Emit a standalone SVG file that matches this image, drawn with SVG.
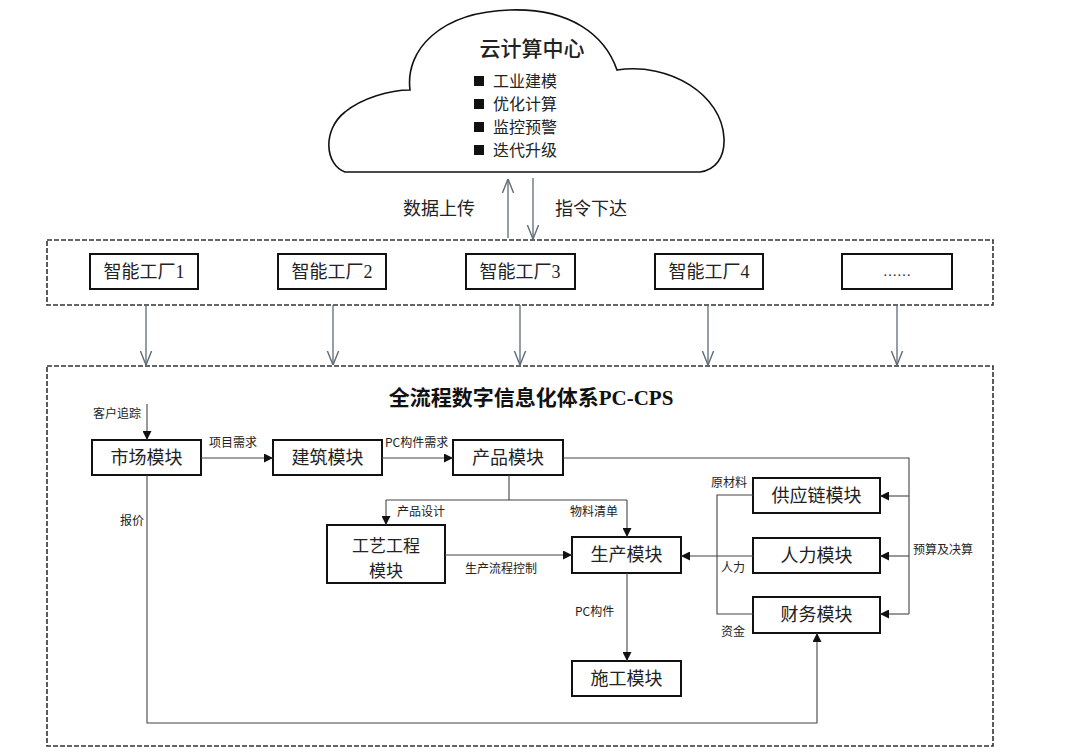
<svg xmlns="http://www.w3.org/2000/svg" width="1067" height="756" viewBox="0 0 1067 756">
<defs>
<style>
.box{fill:#fff;stroke:#111;stroke-width:2}
.dash{fill:none;stroke:#333;stroke-width:1.6;stroke-dasharray:5 2}
.ln{fill:none;stroke:#444;stroke-width:1.1}
.gl{fill:none;stroke:#5d6b78;stroke-width:1.3}
.m{font-family:"Noto Sans CJK SC","Liberation Sans",sans-serif;font-size:18px;fill:#222;text-anchor:middle}
.s{font-family:"Noto Sans CJK SC","Liberation Sans",sans-serif;font-size:12px;fill:#222}
.c{font-family:"Noto Sans CJK SC","Liberation Sans",sans-serif;font-size:18px;fill:#222}
.ci{font-family:"Noto Sans CJK SC","Liberation Sans",sans-serif;font-size:16px;fill:#222}
.t{font-family:"Liberation Serif","Noto Sans CJK SC",serif;font-size:21px;font-weight:bold;fill:#111;text-anchor:middle}
.num{font-family:"Liberation Serif",serif}
</style>
<marker id="fa" viewBox="0 0 10 10" refX="10" refY="5" markerWidth="9" markerHeight="9" markerUnits="userSpaceOnUse" orient="auto">
<path d="M0 0L10 5L0 10Z" fill="#111"/>
</marker>
<marker id="va" viewBox="0 0 10 10" refX="10" refY="5" markerWidth="14" markerHeight="14" markerUnits="userSpaceOnUse" orient="auto">
<path d="M0 1L10 5L0 9" fill="none" stroke="#5d6b78" stroke-width="1"/>
</marker>
</defs>
<rect width="1067" height="756" fill="#fff"/>

<g id="cloud">
<path d="M345 172C325 165 322 130 345 112C362 98 390 90 410 90C405 50 440 12 510 10C570 8 605 35 617 70C670 62 722 95 724 138C725 158 715 170 700 172Z" fill="#fff" stroke="#111" stroke-width="1.6"/>
<text x="532" y="56" class="c" style="font-size:21px;font-weight:500" text-anchor="middle">云计算中心</text>
<rect x="474" y="76" width="10" height="10" fill="#111"/>
<rect x="474" y="99" width="10" height="10" fill="#111"/>
<rect x="474" y="122" width="10" height="10" fill="#111"/>
<rect x="474" y="145" width="10" height="10" fill="#111"/>
<text x="493" y="87" class="ci">工业建模</text>
<text x="493" y="110" class="ci">优化计算</text>
<text x="493" y="133" class="ci">监控预警</text>
<text x="493" y="156" class="ci">迭代升级</text>
</g>

<g id="factories">
<rect x="47" y="240" width="946" height="65" class="dash"/>
<g id="f1"><rect x="90" y="254" width="108" height="35" class="box"/><text x="144" y="278" class="m">智能工厂<tspan class="num">1</tspan></text></g>
<g id="f2"><rect x="278" y="254" width="108" height="35" class="box"/><text x="332" y="278" class="m">智能工厂<tspan class="num">2</tspan></text></g>
<g id="f3"><rect x="466" y="254" width="109" height="35" class="box"/><text x="520" y="278" class="m">智能工厂<tspan class="num">3</tspan></text></g>
<g id="f4"><rect x="655" y="254" width="108" height="35" class="box"/><text x="709" y="278" class="m">智能工厂<tspan class="num">4</tspan></text></g>
<g id="f5"><rect x="842" y="254" width="110" height="35" class="box"/><text x="897" y="276" class="m" style="font-family:'Liberation Serif',serif;font-size:14px">……</text></g>
</g>

<g id="system">
<rect x="47" y="366" width="946" height="380" class="dash"/>
<text x="531" y="405" class="t">全流程数字信息化体系PC-CPS</text>
</g>

<g id="market"><rect x="92" y="440" width="109" height="35" class="box"/><text x="146.5" y="464" class="m">市场模块</text></g>
<g id="building"><rect x="273" y="440" width="109" height="35" class="box"/><text x="327.5" y="464" class="m">建筑模块</text></g>
<g id="product"><rect x="453" y="440" width="110" height="35" class="box"/><text x="508" y="464" class="m">产品模块</text></g>
<g id="process"><rect x="327" y="525" width="118" height="58" class="box"/><text x="386" y="552" class="m" style="font-size:17px">工艺工程</text><text x="386" y="577" class="m" style="font-size:17px">模块</text></g>
<g id="production"><rect x="572" y="537" width="109" height="36" class="box"/><text x="626.5" y="561" class="m">生产模块</text></g>
<g id="supply"><rect x="753" y="478" width="127" height="35" class="box"/><text x="816.5" y="502" class="m">供应链模块</text></g>
<g id="hr"><rect x="753" y="538" width="127" height="35" class="box"/><text x="816.5" y="562" class="m">人力模块</text></g>
<g id="finance"><rect x="753" y="597" width="127" height="36" class="box"/><text x="816.5" y="621" class="m">财务模块</text></g>
<g id="construction"><rect x="572" y="661" width="109" height="35" class="box"/><text x="626.5" y="685" class="m">施工模块</text></g>

<g id="connectors">
<path d="M508 238V179" class="gl" marker-end="url(#va)"/>
<path d="M533 178V239" class="gl" marker-end="url(#va)"/>
<path d="M146 305V365" class="gl" marker-end="url(#va)"/>
<path d="M333 305V365" class="gl" marker-end="url(#va)"/>
<path d="M520 305V365" class="gl" marker-end="url(#va)"/>
<path d="M708 305V365" class="gl" marker-end="url(#va)"/>
<path d="M897 305V365" class="gl" marker-end="url(#va)"/>

<path d="M147 404V440" class="ln" marker-end="url(#fa)"/>
<path d="M201 458H273" class="ln" marker-end="url(#fa)"/>
<path d="M382 458H453" class="ln" marker-end="url(#fa)"/>
<path d="M563 458H909V614" class="ln"/>
<path d="M909 496H880" class="ln" marker-end="url(#fa)"/>
<path d="M909 556H880" class="ln" marker-end="url(#fa)"/>
<path d="M909 614H880" class="ln" marker-end="url(#fa)"/>
<path d="M509 475V500M386 500H627" class="ln"/>
<path d="M386 500V525" class="ln" marker-end="url(#fa)"/>
<path d="M627 500V537" class="ln" marker-end="url(#fa)"/>
<path d="M445 555H572" class="ln" marker-end="url(#fa)"/>
<path d="M753 495H717V614H753" class="ln"/>
<path d="M753 556H681" class="ln" marker-end="url(#fa)"/>
<path d="M627 573V661" class="ln" marker-end="url(#fa)"/>
<path d="M147 475V723H817V633" class="ln" marker-end="url(#fa)"/>

<text x="475" y="215" class="c" text-anchor="end">数据上传</text>
<text x="555" y="215" class="c">指令下达</text>
<text x="93" y="418" class="s">客户追踪</text>
<text x="209" y="447" class="s">项目需求</text>
<text x="385" y="447" class="s">PC构件需求</text>
<text x="397" y="516" class="s">产品设计</text>
<text x="570" y="516" class="s">物料清单</text>
<text x="465" y="573" class="s">生产流程控制</text>
<text x="120" y="525" class="s">报价</text>
<text x="575" y="616" class="s">PC构件</text>
<text x="711" y="487" class="s">原材料</text>
<text x="721" y="572" class="s">人力</text>
<text x="721" y="636" class="s">资金</text>
<text x="913" y="554" class="s">预算及决算</text>
</g>
</svg>
